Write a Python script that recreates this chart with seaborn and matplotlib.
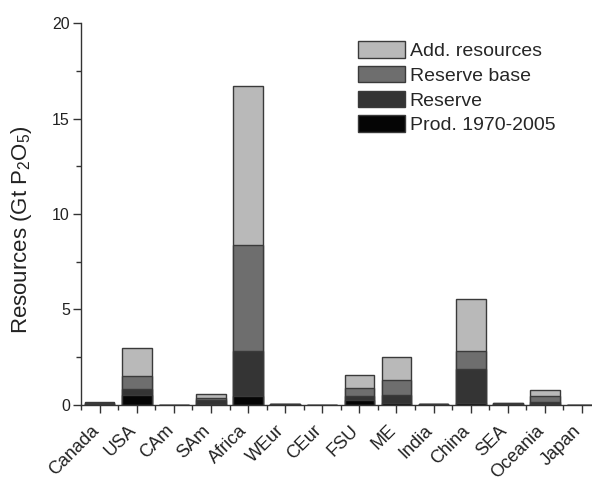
import numpy as np
import pandas as pd
import matplotlib
matplotlib.use("Agg")
import matplotlib.pyplot as plt
import seaborn as sns
from matplotlib.patches import Patch
from matplotlib.ticker import MultipleLocator

# -----------------------------------------
# Data (Gt P2O5)
# -----------------------------------------
regions = ["Canada", "USA", "CAm", "SAm", "Africa", "WEur", "CEur",
           "FSU", "ME", "India", "China", "SEA", "Oceania", "Japan"]
prod = [0.05, 0.5, 0.0, 0.05, 0.45, 0.02, 0.0, 0.25, 0.1, 0.02, 0.1, 0.03, 0.05, 0.0]
reserve = [0.05, 0.35, 0.0, 0.2, 2.35, 0.02, 0.0, 0.2, 0.4, 0.02, 1.8, 0.04, 0.1, 0.0]
reserve_base = [0.02, 0.65, 0.0, 0.1, 5.6, 0.01, 0.0, 0.45, 0.8, 0.01, 0.9, 0.02, 0.3, 0.0]
add_resources = [0.02, 1.5, 0.0, 0.2, 8.3, 0.01, 0.0, 0.65, 1.2, 0.01, 2.75, 0.01, 0.35, 0.0]

layer_names = ["Prod. 1970-2005", "Reserve", "Reserve base", "Add. resources"]
layer_colors = ["#050505", "#343434", "#6e6e6e", "#b9b9b9"]

df = pd.DataFrame({
    "region": regions,
    "Prod. 1970-2005": prod,
    "Reserve": reserve,
    "Reserve base": reserve_base,
    "Add. resources": add_resources,
})
cum = df[layer_names].cumsum(axis=1)
cum["region"] = df["region"]

# -----------------------------------------
# Plot
# -----------------------------------------
sns.set_style("ticks")
plt.rcParams["font.family"] = ["Liberation Sans", "DejaVu Sans"]
plt.rcParams["mathtext.default"] = "regular"

fig = plt.figure(figsize=(5.92, 4.82), dpi=100)
ax = fig.add_axes([0.137, 0.16, 0.863, 0.792])

# draw stacked layers from the top down so each overlaps the one above
for name, color in reversed(list(zip(layer_names, layer_colors))):
    sns.barplot(data=cum, x="region", y=name, color=color, ax=ax,
                width=0.8, edgecolor="#3a3a3a", linewidth=1.0, saturation=1)

ax.set_ylim(0, 20)
ax.set_xlim(-0.5, 13.27)
ax.yaxis.set_major_locator(MultipleLocator(5))
ax.yaxis.set_minor_locator(MultipleLocator(2.5))
ax.xaxis.set_minor_locator(MultipleLocator(0.5))
ax.tick_params(axis="both", which="major", direction="out", length=6,
               width=1, colors="#333333", labelcolor="#222222")
ax.tick_params(axis="y", which="major", labelsize=11.5, pad=2)
ax.tick_params(axis="x", which="major", labelsize=13, pad=13)
ax.tick_params(axis="both", which="minor", direction="out", length=3.5,
               width=1, colors="#333333")
ax.set_xticks(range(len(regions)))
ax.set_xticklabels(regions, rotation=45, ha="right", va="baseline",
                   rotation_mode="anchor")

ax.set_xlabel("")
ax.set_ylabel("Resources (Gt P$_2$O$_5$)", fontsize=16, color="#222222")
ax.yaxis.set_label_coords(-0.092, 0.46)

for side in ["top", "right"]:
    ax.spines[side].set_visible(False)
for side in ["left", "bottom"]:
    ax.spines[side].set_color("#333333")
    ax.spines[side].set_linewidth(1.0)

handles = [Patch(facecolor=c, edgecolor="#3a3a3a", linewidth=1.0, label=n)
           for n, c in zip(layer_names, layer_colors)][::-1]
ax.legend(handles=handles, loc="upper left", bbox_to_anchor=(0.542, 0.953),
          frameon=False, fontsize=14, handlelength=2.4, handleheight=0.93,
          labelspacing=0.3, handletextpad=0.26, borderaxespad=0, borderpad=0)

fig.savefig("out.png", dpi=100)
